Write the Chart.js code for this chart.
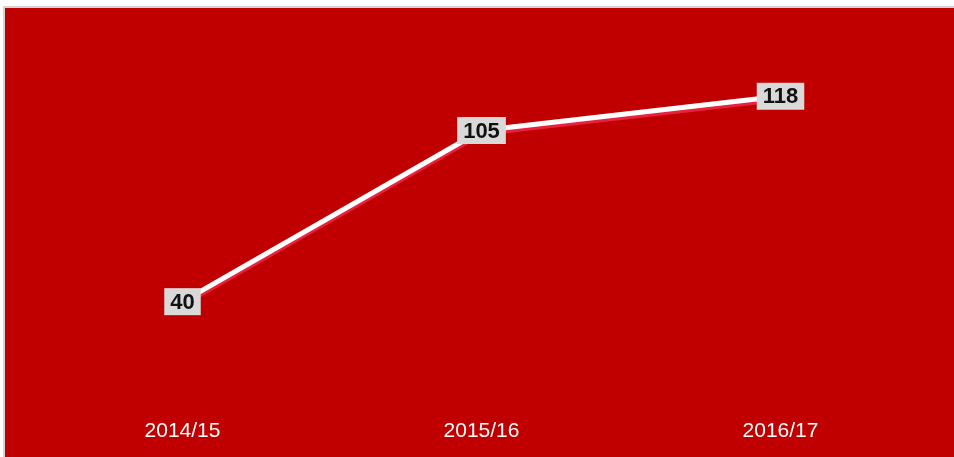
<!DOCTYPE html>
<html>
<head>
<meta charset="utf-8">
<script src="https://cdn.jsdelivr.net/npm/chart.js@4"></script>
<style>
  html, body { margin: 0; padding: 0; background: #fff; }
  #frame {
    position: absolute; left: 3px; top: 6px;
    width: 949px; height: 449px;
    border-top: 2px solid #d4d4d4; border-left: 2px solid #d4d4d4;
    background: #c00000;
  }
  canvas { display: block; }
</style>
</head>
<body>
<div id="frame"><canvas id="chart" width="949" height="449"></canvas></div>
<script>
  const years = ['2014/15', '2015/16', '2016/17'];
  const values = [40, 105, 118];

  // pink shadow under the white line
  const lineShadow = {
    id: 'lineShadow',
    beforeDatasetDraw(chart) {
      const ctx = chart.ctx;
      ctx.save();
      ctx.shadowColor = 'rgb(235, 32, 60)';
      ctx.shadowOffsetX = 0;
      ctx.shadowOffsetY = 3;
      ctx.shadowBlur = 0;
    },
    afterDatasetDraw(chart) {
      chart.ctx.restore();
    }
  };

  // grey boxed value labels
  const valueLabels = {
    id: 'valueLabels',
    afterDatasetsDraw(chart) {
      const ctx = chart.ctx;
      const meta = chart.getDatasetMeta(0);
      ctx.save();
      ctx.font = 'bold 22px "Liberation Sans"';
      ctx.textAlign = 'center';
      ctx.textBaseline = 'middle';
      meta.data.forEach((pt, i) => {
        const text = String(values[i]);
        const w = ctx.measureText(text).width + 12;
        const h = 27;
        ctx.fillStyle = '#d9d9d9';
        ctx.fillRect(pt.x - w / 2, pt.y - h / 2, w, h);
        ctx.fillStyle = '#111';
        ctx.fillText(text, pt.x, pt.y + 1);
      });
      ctx.restore();
    }
  };

  new Chart(document.getElementById('chart'), {
    type: 'line',
    data: {
      labels: years,
      datasets: [{
        data: values,
        borderColor: '#ffffff',
        borderWidth: 5,
        pointRadius: 0,
        tension: 0
      }]
    },
    options: {
      responsive: false,
      animation: false,
      layout: { padding: { left: 28, right: 24, top: 4, bottom: 0 } },
      plugins: { legend: { display: false }, tooltip: { enabled: false } },
      scales: {
        x: {
          offset: true,
          grid: { display: false, drawTicks: false },
          border: { display: false },
          ticks: { color: '#ffffff', font: { family: 'Liberation Sans', size: 21 }, padding: 12 },
          afterFit(scale) { scale.height = 50; }
        },
        y: {
          display: false,
          min: 0,
          max: 150
        }
      }
    },
    plugins: [lineShadow, valueLabels]
  });
</script>
</body>
</html>
